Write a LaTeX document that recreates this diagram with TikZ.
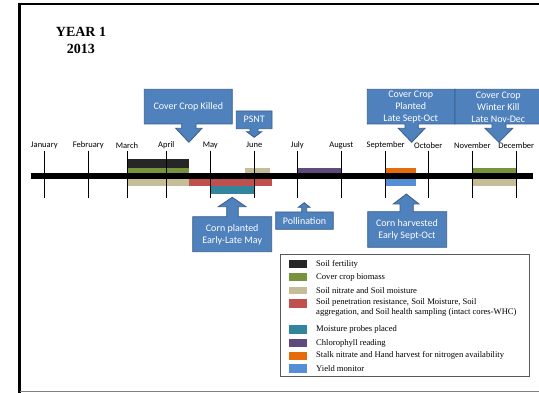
\documentclass[tikz,border=0pt]{standalone}
\usepackage{fontspec}
\setmainfont{Liberation Serif}
\newfontfamily\calibri{Carlito}
\usepackage{tikz}

\definecolor{callfill}{HTML}{4F81BD}
\definecolor{calledge}{HTML}{385D8A}
\definecolor{fertility}{HTML}{262626}
\definecolor{biomass}{HTML}{77933C}
\definecolor{nitrate}{HTML}{C4BD97}
\definecolor{penetration}{HTML}{C0504D}
\definecolor{probes}{HTML}{31859C}
\definecolor{chloro}{HTML}{604A7B}
\definecolor{stalk}{HTML}{E46C0A}
\definecolor{yield}{HTML}{558ED5}

\begin{document}
\begin{tikzpicture}[x=1pt,y=-1pt,
  callout/.style={fill=callfill,draw=calledge,line width=0.8pt,line join=miter},
  calltext/.style={text=white,font=\calibri\fontsize{10}{12}\selectfont,align=center,inner sep=0pt},
  month/.style={font=\calibri\fontsize{8.5}{10}\selectfont,inner sep=0pt},
  legtext/.style={font=\fontsize{8.6}{10.3}\selectfont,anchor=west,align=left,inner sep=0pt}]
\useasboundingbox (0,0) rectangle (539,393);
% frame
\draw[line width=2.2pt] (19.5,393) -- (19.5,3.7) -- (540,3.7);
\draw[gray,line width=0.8pt] (19.5,391.7) -- (540,391.7);
\node[font=\bfseries\fontsize{14}{17}\selectfont,align=center] (title) at (81,40.5) {YEAR 1\\2013};
% sampling bars
\fill[fertility] (127.3,159.3) rectangle (189,167.7);
\fill[biomass] (127.3,167.7) rectangle (189,174);
\fill[nitrate] (127.3,178) rectangle (189,185.7);
\fill[nitrate] (245,167.7) rectangle (270,174);
\fill[penetration] (189,178) rectangle (271.7,185.7);
\fill[probes] (210.7,185.7) rectangle (254,194.3);
\fill[chloro] (297.7,167.7) rectangle (341.3,174);
\fill[stalk] (385.7,167.7) rectangle (416,174);
\fill[yield] (385.7,178) rectangle (416,185.7);
\fill[biomass] (472.7,167.7) rectangle (516.3,174);
\fill[nitrate] (472.7,178) rectangle (516.3,185.7);
% timeline
\draw[line width=5.3pt] (31,176) -- (533,176);
\foreach \x/\m in {44.3/January,88.3/February,127/March,166.3/April,210.3/May,254.3/June,
  297.3/July,341.3/August,385.7/September,428.3/October,472.3/November,516.3/December}{
  \draw[line width=1pt] (\x,150.7) -- (\x,198);
  \node[month] (\m) at (\x,145.3) {\m};
}
% callouts above
\draw[callout] (144.3,89.3) -- (232.3,89.3) -- (232.3,124) -- (196,124) -- (196,128.3) -- (202,128.3)
  -- (188.9,142.3) -- (175.7,128.3) -- (181.7,128.3) -- (181.7,124) -- (144.3,124) -- cycle;
\node[calltext] (killed) at (188.3,106.7) {Cover Crop Killed};
\draw[callout] (236.3,111) -- (272,111) -- (272,128.7) -- (258,128.7) -- (258,131.7) -- (261.7,131.7)
  -- (254.2,137.3) -- (246.7,131.7) -- (250,131.7) -- (250,128.7) -- (236.3,128.7) -- cycle;
\node[calltext] (psnt) at (254.2,119.5) {PSNT};
\draw[callout] (367.3,89.3) -- (455,89.3) -- (455,124) -- (418.3,124) -- (418.3,128.3) -- (425,128.3)
  -- (411.7,142.3) -- (398.3,128.3) -- (405,128.3) -- (405,124) -- (367.3,124) -- cycle;
\node[calltext] (planted) at (410.7,107) {Cover Crop\\Planted\\Late Sept-Oct};
\draw[callout] (455,89.3) -- (540,89.3) -- (540,124) -- (506,124) -- (506,128.3) -- (512.7,128.3)
  -- (498.9,142.3) -- (485,128.3) -- (492,128.3) -- (492,124) -- (455,124) -- cycle;
\node[calltext] (winterkill) at (498.3,107) {Cover Crop\\Winter Kill\\Late Nov-Dec};
% callouts below
\draw[callout] (192.7,251.7) -- (192.7,216.7) -- (226.7,216.7) -- (226.7,206.7) -- (218.3,206.7)
  -- (232.2,197.3) -- (246,206.7) -- (238.3,206.7) -- (238.3,216.7) -- (271.7,216.7) -- (271.7,251.7) -- cycle;
\node[calltext] (cornplanted) at (232.2,235) {Corn planted\\Early-Late May};
\draw[callout] (275.7,229.3) -- (275.7,212) -- (301.7,212) -- (301.7,207.3) -- (298.3,207.3)
  -- (304.2,202.7) -- (310,207.3) -- (306.7,207.3) -- (306.7,212) -- (333.3,212) -- (333.3,229.3) -- cycle;
\node[calltext] (pollination) at (304.5,220.7) {Pollination};
\draw[callout] (367.7,247.3) -- (367.7,211.7) -- (400,211.7) -- (400,204) -- (393.3,204)
  -- (406.3,194) -- (419,204) -- (413.3,204) -- (413.3,211.7) -- (446.7,211.7) -- (446.7,247.3) -- cycle;
\node[calltext] (harvested) at (407,230) {Corn harvested\\Early Sept-Oct};
% legend
\draw[gray!70!black,line width=0.8pt] (280.7,254.3) rectangle (529.3,376.7);
\fill[fertility] (289,260) rectangle (306.7,268.3);
\node[legtext] (legfert) at (316,264.2) {Soil fertility};
\fill[biomass] (289,273.3) rectangle (306.7,281.3);
\node[legtext] (legbio) at (316,277.3) {Cover crop biomass};
\fill[nitrate] (289,286.7) rectangle (306.7,294.3);
\node[legtext] (legnit) at (316,290.5) {Soil nitrate and Soil moisture};
\fill[penetration] (289,299.3) rectangle (306.7,307.7);
\node[legtext] (legpen) at (316,307.5) {Soil penetration resistance, Soil Moisture, Soil\\aggregation, and Soil health sampling (intact cores-WHC)};
\fill[probes] (289,325.3) rectangle (306.7,333.7);
\node[legtext] (legprobe) at (316,329.5) {Moisture probes placed};
\fill[chloro] (289,339) rectangle (306.7,347.3);
\node[legtext] (legchl) at (316,343.2) {Chlorophyll reading};
\fill[stalk] (289,351.7) rectangle (306.7,360);
\node[legtext] (legstalk) at (316,355.8) {Stalk nitrate and Hand harvest for nitrogen availability};
\fill[yield] (289,364.3) rectangle (306.7,372.7);
\node[legtext] (legyield) at (316,368.5) {Yield monitor};
\end{tikzpicture}
\end{document}
